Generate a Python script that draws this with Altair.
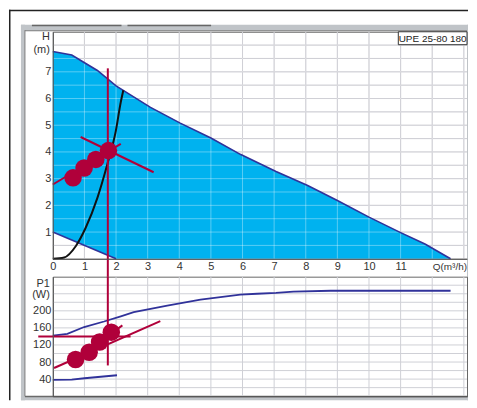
import altair as alt
import pandas as pd

# ---------------- values ----------------
grid_q = [1, 2, 3, 4, 5, 6, 7, 8, 9, 10, 11, 12, 13]
grid_h = [0.5, 1.0, 1.5, 2.0, 2.5, 3.0, 3.5, 4.0, 4.5, 5.0, 5.5, 6.0, 6.5, 7.0, 7.5, 8.0]
grid_p = [20, 40, 60, 80, 100, 120, 140, 160, 180, 200, 220, 240, 260]
q_ticks = [0, 1, 2, 3, 4, 5, 6, 7, 8, 9, 10, 11]
h_ticks = [1, 2, 3, 4, 5, 6, 7]
p_ticks = [40, 80, 120, 160, 200]

# H(Q) envelope
max_q = [0, 0.6, 0.99, 1.41, 2.0, 3.09, 4.03, 5.0, 5.93, 7.06, 8.06, 9.0, 10.0, 11.0, 11.77, 12.58]
max_h = [7.76, 7.63, 7.35, 7.05, 6.47, 5.67, 5.08, 4.52, 3.91, 3.27, 2.74, 2.18, 1.56, 0.98, 0.55, 0.0]
low_h = [1.0, 0.7, 0.5, 0.3, 0.0, 0.0, 0.0, 0.0, 0.0, 0.0, 0.0, 0.0, 0.0, 0.0, 0.0, 0.0]
min_q = [0.0, 2.0]
min_h = [1.0, 0.0]

# system curve
sys_q = [0.0, 0.36, 0.73, 1.04, 1.41, 1.72, 1.99, 2.15, 2.23]
sys_h = [0.0, 0.05, 0.48, 1.16, 2.28, 3.52, 4.77, 5.87, 6.31]

# operating points (top)
op_q = [0.64, 0.99, 1.36, 1.76]
op_h = [3.03, 3.40, 3.72, 4.05]
red_top_q1 = [0.0, 0.88, 1.74]
red_top_h1 = [2.78, 4.56, 7.13]
red_top_q2 = [2.15, 3.19, 1.74]
red_top_h2 = [4.30, 3.24, -0.68]

# P1(Q)
pmax_q = [0, 0.46, 0.99, 1.62, 2.15, 2.56, 3.62, 4.67, 5.93, 6.46, 7.06, 7.61, 8.79, 12.58]
pmax_p = [142, 146, 162, 175, 187, 197, 212, 226, 238, 240, 242, 245, 247, 247]
pmin_q = [0.0, 0.6, 1.0, 2.03]
pmin_p = [38, 39, 42, 49]

# operating points (bottom)
opb_q = [0.72, 1.15, 1.48, 1.85]
opb_p = [86, 103, 127, 150]
red_bot_q1 = [0.72, 0.04, -0.46, 1.74]
red_bot_p1 = [86, 66, 140, 280]
red_bot_q2 = [2.20, 3.40, 2.46, 1.74]
red_bot_p2 = [166, 176, 140, 72]

h_label_text = ["H", "(m)"]
h_label_pos = [8.31, 7.83]
p_label_text = ["P1", "(W)"]
p_label_pos = [264, 236]
q_label_text = ["Q(m³/h)"]
model_text = ["UPE 25-80 180"]

# ---------------- styling ----------------
BLUE = "#00b2ef"
NAVY = "#30329a"
RED = "#b0003a"
GRID = "#b6b6c0"
GRID_B = "#cfd0d6"
FRAME = "#c0c4c8"
FONT = "Liberation Sans"

xs = alt.Scale(domain=[0, 13.1], nice=False, zero=False)
ys_top = alt.Scale(domain=[0, 8.5], nice=False, zero=False)
ys_bot = alt.Scale(domain=[0, 280], nice=False, zero=False)

common = dict(ticks=False, grid=False, domainColor="#555", domainWidth=1,
              labelFont=FONT, labelFontSize=11, labelColor="#333",
              labelPadding=2, labelFlush=False, labelOverlap=False, zindex=1, title=None)
ax_x_top = alt.Axis(values=q_ticks, **common)
ax_y_top = alt.Axis(values=h_ticks, **common)
ax_x_bot = alt.Axis(values=q_ticks, labels=False, **common)
ax_y_bot = alt.Axis(values=p_ticks, **common)


def XT(f):
    return alt.X(f + ":Q", scale=xs, axis=ax_x_top, title=None)


def YT(f):
    return alt.Y(f + ":Q", scale=ys_top, axis=ax_y_top, title=None)


def XB(f):
    return alt.X(f + ":Q", scale=xs, axis=ax_x_bot, title=None)


def YB(f):
    return alt.Y(f + ":Q", scale=ys_bot, axis=ax_y_bot, title=None)


one = pd.DataFrame({"a": [0]})


def deco(x1, x2, y1, y2, color):
    return alt.Chart(one).mark_rect(color=color, clip=False).encode(
        x=alt.value(x1), x2=alt.value(x2), y=alt.value(y1), y2=alt.value(y2))


# ---------------- top panel ----------------
decor = [
    deco(-44, -42.5, -22, 370, "#222"),      # outer black left line
    deco(-44, 417, -22, -20.5, "#222"),      # outer black top line
    deco(-32, -28, -7, 370, FRAME),          # gray left
    deco(-32, 417, -7, -1, FRAME),           # gray top
    deco(-32, 417, 366, 370, FRAME),         # gray bottom
    deco(416, 417, -7, 370, FRAME),          # gray right
    deco(-28.5, -27.5, -1.5, 366, "#7c7c7c"),
    deco(-28, 416, -1.5, -0.5, "#7c7c7c"),
    deco(-28, 417, 365.5, 367, "#6a6a6a"),
    deco(-21, 69, -7, -5.5, "#666"),          # tabs
    deco(75, 159, -7, -5.5, "#666"),
]

df_gq = pd.DataFrame({"Q": grid_q})
df_gh = pd.DataFrame({"H": grid_h})
gv = alt.Chart(df_gq).mark_rule(color=GRID, strokeWidth=1).encode(x=XT("Q"))
gh = alt.Chart(df_gh).mark_rule(color=GRID, strokeWidth=1).encode(y=YT("H"))
gv_w = alt.Chart(df_gq).mark_rule(color="white", strokeWidth=1, strokeOpacity=0.35).encode(x=XT("Q"))
gh_w = alt.Chart(df_gh).mark_rule(color="white", strokeWidth=1, strokeOpacity=0.35).encode(y=YT("H"))

df_env = pd.DataFrame({"Q": max_q, "H": max_h, "L": low_h})
area = alt.Chart(df_env).mark_area(color=BLUE, opacity=1, clip=False).encode(
    x=XT("Q"), y=YT("H"), y2=alt.Y2("L"))
max_line = alt.Chart(df_env).mark_line(color=NAVY, strokeWidth=1.6).encode(x=XT("Q"), y=YT("H"))
min_line = alt.Chart(pd.DataFrame({"Q": min_q, "H": min_h})).mark_line(
    color=NAVY, strokeWidth=1.6).encode(x=XT("Q"), y=YT("H"))
sys_line = alt.Chart(pd.DataFrame({"Q": sys_q, "H": sys_h})).mark_line(
    color="#111", strokeWidth=2, interpolate="monotone").encode(x=XT("Q"), y=YT("H"))

red_top = alt.Chart(pd.DataFrame({"q1": red_top_q1, "h1": red_top_h1,
                                  "q2": red_top_q2, "h2": red_top_h2})).mark_rule(
    color=RED, strokeWidth=2, clip=False).encode(
    x=XT("q1"), x2=alt.X2("q2"), y=YT("h1"), y2=alt.Y2("h2"))
dots_top = alt.Chart(pd.DataFrame({"Q": op_q, "H": op_h})).mark_circle(
    size=310, color=RED, opacity=1).encode(x=XT("Q"), y=YT("H"))

h_lab = alt.Chart(pd.DataFrame({"t": h_label_text, "H": h_label_pos})).mark_text(
    align="right", baseline="middle", font=FONT, fontSize=11, color="#333", clip=False).encode(
    x=alt.value(-3), y=YT("H"), text="t:N")
q_lab = alt.Chart(pd.DataFrame({"t": q_label_text})).mark_text(
    align="right", baseline="middle", font=FONT, fontSize=10, color="#333", clip=False).encode(
    x=alt.value(416), y=alt.value(236), text="t:N")
upe_box = alt.Chart(one).mark_rect(fill="white", stroke="#333", strokeWidth=1, clip=False).encode(
    x=alt.value(347), x2=alt.value(416), y=alt.value(0), y2=alt.value(13))
upe_txt = alt.Chart(pd.DataFrame({"t": model_text})).mark_text(
    align="center", baseline="middle", font=FONT, fontSize=10, color="#222", clip=False).encode(
    x=alt.value(381.5), y=alt.value(7), text="t:N")

top = alt.layer(*decor, gv, gh, area, gv_w, gh_w, max_line, min_line, sys_line,
                red_top, dots_top, h_lab, q_lab, upe_box, upe_txt).properties(width=416, height=228)

# ---------------- bottom panel ----------------
gv_b = alt.Chart(pd.DataFrame({"Q": grid_q})).mark_rule(color=GRID_B, strokeWidth=1).encode(x=XB("Q"))
gp_b = alt.Chart(pd.DataFrame({"P": grid_p})).mark_rule(color=GRID_B, strokeWidth=1).encode(y=YB("P"))
pmax_line = alt.Chart(pd.DataFrame({"Q": pmax_q, "P": pmax_p})).mark_line(
    color=NAVY, strokeWidth=1.8).encode(x=XB("Q"), y=YB("P"))
pmin_line = alt.Chart(pd.DataFrame({"Q": pmin_q, "P": pmin_p})).mark_line(
    color=NAVY, strokeWidth=1.8).encode(x=XB("Q"), y=YB("P"))
red_bot = alt.Chart(pd.DataFrame({"q1": red_bot_q1, "p1": red_bot_p1,
                                  "q2": red_bot_q2, "p2": red_bot_p2})).mark_rule(
    color=RED, strokeWidth=2, clip=False).encode(
    x=XB("q1"), x2=alt.X2("q2"), y=YB("p1"), y2=alt.Y2("p2"))
dots_bot = alt.Chart(pd.DataFrame({"Q": opb_q, "P": opb_p})).mark_circle(
    size=310, color=RED, opacity=1).encode(x=XB("Q"), y=YB("P"))
p_lab = alt.Chart(pd.DataFrame({"t": p_label_text, "P": p_label_pos})).mark_text(
    align="right", baseline="middle", font=FONT, fontSize=11, color="#333", clip=False).encode(
    x=alt.value(-3), y=YB("P"), text="t:N")

bottom = alt.layer(gv_b, gp_b, pmax_line, pmin_line, red_bot, dots_bot, p_lab).properties(
    width=416, height=120)

chart = alt.vconcat(top, bottom, spacing=18, bounds="flush").resolve_scale(
    x="independent", y="independent").properties(
    padding=0, background="white").configure_view(stroke="#666", strokeWidth=1)

chart.save("out.html", embed_options={"renderer": "svg", "actions": False})
